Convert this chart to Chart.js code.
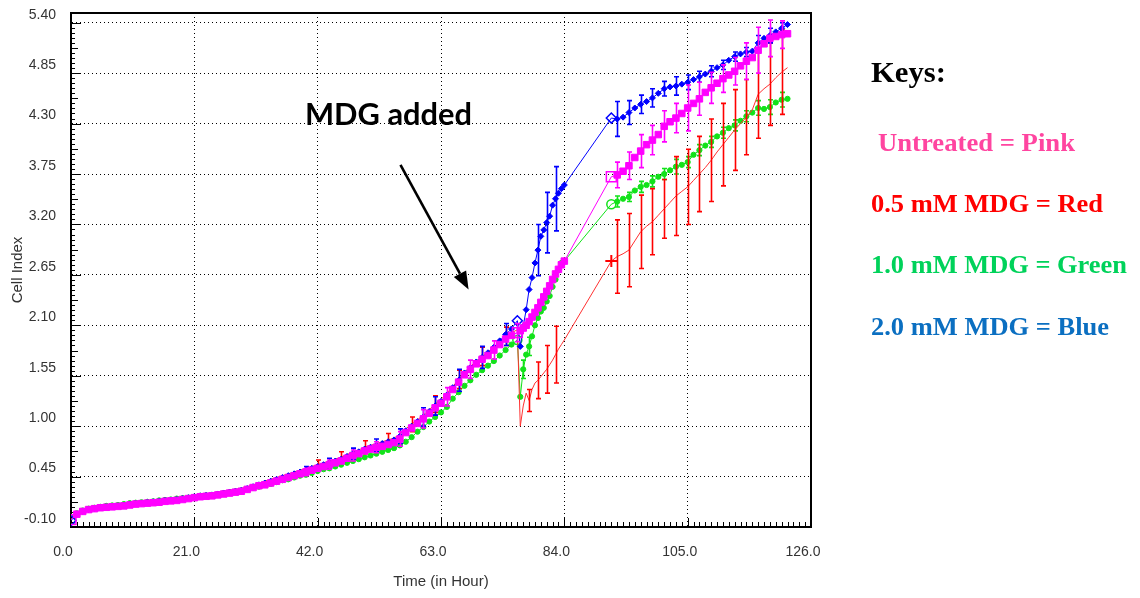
<!DOCTYPE html>
<html>
<head>
<meta charset="utf-8">
<title>Cell Index over time</title>
<script src="https://cdn.jsdelivr.net/npm/chart.js@4.4.1/dist/chart.umd.min.js"></script>
<style>
  html, body { margin: 0; padding: 0; background: #fff; }
  #wrap { position: relative; width: 1140px; height: 598px; overflow: hidden; }
  #wrap canvas { position: absolute; left: 0; top: 0; }
  #notes { position: absolute; left: 0; top: 0; pointer-events: none; }
</style>
</head>
<body>
<div id="wrap">
  <canvas id="ci" width="1140" height="598"></canvas>
  <svg id="notes" width="1140" height="598">
    <text x="305" y="125" font-family="Lato, 'Open Sans', sans-serif" font-weight="700" font-size="30" fill="#000"
          textLength="167" lengthAdjust="spacingAndGlyphs">MDG added</text>
    <g font-family="'Liberation Serif', 'Times New Roman', serif" font-weight="700">
      <text x="871" y="82" font-size="30" fill="#000" textLength="75" lengthAdjust="spacingAndGlyphs">Keys:</text>
      <text x="878" y="151" font-size="26" fill="#ff45a0" textLength="197" lengthAdjust="spacingAndGlyphs">Untreated = Pink</text>
      <text x="871" y="212" font-size="26" fill="#ff0000" textLength="232" lengthAdjust="spacingAndGlyphs">0.5 mM MDG = Red</text>
      <text x="871" y="273" font-size="26" fill="#00d25a" textLength="256" lengthAdjust="spacingAndGlyphs">1.0 mM MDG = Green</text>
      <text x="871" y="335" font-size="26" fill="#0b6fc1" textLength="238" lengthAdjust="spacingAndGlyphs">2.0 mM MDG = Blue</text>
    </g>
  </svg>
</div>
<script>
// Sampling times (hours): growth phase, dense readings after MDG addition, late readings
const hours = [
  0, 1, 2, 3, 4, 5, 6, 7, 8, 9, 10, 11, 12, 13, 14, 15, 16, 17, 18, 19,
  20, 21, 22, 23, 24, 25, 26, 27, 28, 29, 30, 31, 32, 33, 34, 35, 36, 37, 38, 39,
  40, 41, 42, 43, 44, 45, 46, 47, 48, 49, 50, 51, 52, 53, 54, 55, 56, 57, 58, 59,
  60, 61, 62, 63, 64, 65, 66, 67, 68, 69, 70, 71, 72, 73, 74, 75, 76,
  76.5, 77, 77.5, 78, 78.5, 79, 79.5, 80, 80.5, 81, 81.5, 82, 82.5, 83, 83.5, 84,
  92, 93, 94, 95, 96, 97, 98, 99, 100, 101, 102, 103, 104, 105, 106, 107, 108, 109,
  110, 111, 112, 113, 114, 115, 116, 117, 118, 119, 120, 121, 122
];

// Cell Index per condition, one value per entry of `hours`
const untreated = [
  -0.02, 0.04, 0.07, 0.09, 0.10, 0.11, 0.115, 0.12, 0.125, 0.13, 0.14, 0.15, 0.155, 0.16, 0.165, 0.17, 0.18, 0.185, 0.19, 0.20,
  0.21, 0.22, 0.23, 0.235, 0.24, 0.25, 0.26, 0.27, 0.28, 0.29, 0.31, 0.33, 0.35, 0.36, 0.38, 0.40, 0.42, 0.44, 0.46, 0.48,
  0.50, 0.52, 0.54, 0.56, 0.58, 0.60, 0.62, 0.65, 0.68, 0.70, 0.73, 0.75, 0.77, 0.78, 0.80, 0.82, 0.86, 0.93, 0.98, 1.03,
  1.08, 1.14, 1.20, 1.25, 1.32, 1.40, 1.48, 1.56, 1.62, 1.68, 1.73, 1.77, 1.83, 1.89, 1.95, 1.99, 2.02,
  2.04, 2.07, 2.10, 2.14, 2.19, 2.24, 2.29, 2.35, 2.41, 2.47, 2.53, 2.60, 2.66, 2.71, 2.76, 2.80,
  3.72, 3.74, 3.78, 3.84, 3.93, 4.00, 4.07, 4.12, 4.18, 4.27, 4.32, 4.36, 4.41, 4.47, 4.52, 4.57, 4.64, 4.69,
  4.74, 4.79, 4.83, 4.87, 4.93, 4.98, 5.02, 5.10, 5.17, 5.23, 5.25, 5.27, 5.28
];
const mdg05 = [
  -0.02, 0.05, 0.08, 0.10, 0.11, 0.12, 0.13, 0.135, 0.14, 0.15, 0.16, 0.17, 0.175, 0.18, 0.19, 0.195, 0.20, 0.21, 0.215, 0.22,
  0.23, 0.24, 0.25, 0.26, 0.27, 0.28, 0.29, 0.30, 0.31, 0.32, 0.34, 0.36, 0.38, 0.40, 0.42, 0.44, 0.46, 0.48, 0.50, 0.52,
  0.54, 0.56, 0.58, 0.60, 0.62, 0.64, 0.66, 0.69, 0.72, 0.74, 0.77, 0.79, 0.81, 0.83, 0.85, 0.87, 0.91, 0.97, 1.02, 1.07,
  1.12, 1.18, 1.24, 1.29, 1.36, 1.43, 1.51, 1.59, 1.65, 1.71, 1.76, 1.81, 1.86, 1.92, 1.98, 2.02, 2.05,
  1.00, 1.22, 1.36, 1.28, 1.40, 1.47, 1.50, 1.54, 1.58, 1.62, 1.67, 1.72, 1.78, 1.84, 1.89, 1.94,
  2.80, 2.85, 2.88, 2.92, 3.02, 3.12, 3.18, 3.23, 3.30, 3.37, 3.44, 3.51, 3.56, 3.61, 3.68, 3.75, 3.82, 3.90,
  3.99, 4.07, 4.15, 4.23, 4.30, 4.37, 4.45, 4.62, 4.68, 4.73, 4.80, 4.86, 4.91
];
const mdg10 = [
  -0.02, 0.05, 0.08, 0.10, 0.11, 0.12, 0.13, 0.135, 0.14, 0.15, 0.16, 0.165, 0.17, 0.175, 0.18, 0.19, 0.195, 0.20, 0.21, 0.215,
  0.22, 0.23, 0.24, 0.245, 0.25, 0.26, 0.27, 0.28, 0.29, 0.30, 0.31, 0.33, 0.34, 0.36, 0.37, 0.39, 0.41, 0.42, 0.44, 0.46,
  0.47, 0.49, 0.51, 0.53, 0.54, 0.56, 0.58, 0.60, 0.62, 0.64, 0.66, 0.68, 0.70, 0.72, 0.74, 0.76, 0.79, 0.83, 0.88, 0.94,
  0.99, 1.05, 1.10, 1.15, 1.21, 1.30, 1.37, 1.44, 1.50, 1.56, 1.61, 1.66, 1.71, 1.77, 1.83, 1.89, 1.94,
  1.32, 1.62, 1.78, 1.87, 1.98, 2.10, 2.18, 2.25, 2.29, 2.36, 2.42, 2.52, 2.60, 2.70, 2.78, 2.80,
  3.42, 3.45, 3.48, 3.50, 3.57, 3.61, 3.63, 3.67, 3.72, 3.75, 3.79, 3.83, 3.85, 3.88, 3.96, 4.01, 4.06, 4.10,
  4.16, 4.20, 4.25, 4.28, 4.33, 4.38, 4.42, 4.47, 4.46, 4.48, 4.53, 4.56, 4.57
];
const mdg20 = [
  -0.03, 0.04, 0.07, 0.09, 0.10, 0.11, 0.12, 0.125, 0.13, 0.14, 0.15, 0.155, 0.16, 0.17, 0.175, 0.18, 0.19, 0.195, 0.20, 0.21,
  0.22, 0.23, 0.24, 0.245, 0.25, 0.26, 0.27, 0.28, 0.29, 0.30, 0.32, 0.34, 0.36, 0.38, 0.40, 0.42, 0.44, 0.46, 0.48, 0.50,
  0.52, 0.54, 0.56, 0.58, 0.60, 0.62, 0.64, 0.67, 0.70, 0.72, 0.75, 0.77, 0.79, 0.81, 0.83, 0.85, 0.89, 0.95, 1.00, 1.05,
  1.10, 1.16, 1.22, 1.27, 1.34, 1.42, 1.50, 1.58, 1.64, 1.70, 1.75, 1.80, 1.86, 1.93, 2.00, 2.06, 2.15,
  1.87, 2.09, 2.27, 2.49, 2.62, 2.78, 2.92, 3.07, 3.14, 3.22, 3.29, 3.41, 3.48, 3.54, 3.59, 3.63,
  4.36, 4.35, 4.37, 4.42, 4.47, 4.51, 4.54, 4.58, 4.63, 4.68, 4.70, 4.71, 4.73, 4.75, 4.78, 4.81, 4.84, 4.87,
  4.91, 4.94, 4.99, 5.03, 5.06, 5.08, 5.09, 5.18, 5.23, 5.26, 5.30, 5.34, 5.38
];

// Standard deviations (half bar length) at the hours where bars are shown
const untreatedErrHours = [40, 44, 48, 52, 56, 60, 64, 68, 72, 76, 93, 95, 97, 99, 101, 103, 105, 107, 109, 111, 113, 115, 117, 119, 121];
const untreatedErr      = [0.04, 0.05, 0.06, 0.06, 0.08, 0.10, 0.10, 0.10, 0.10, 0.10, 0.14, 0.15, 0.18, 0.16, 0.17, 0.16, 0.25, 0.18, 0.17, 0.15, 0.15, 0.20, 0.25, 0.20, 0.15];
const mdg05ErrHours = [42, 46, 50, 54, 58, 62, 66, 70, 74, 78, 79.5, 81, 82.5, 93, 95, 97, 99, 101, 103, 105, 107, 109, 111, 113, 115, 117, 119, 121];
const mdg05Err      = [0.05, 0.06, 0.07, 0.07, 0.08, 0.09, 0.10, 0.10, 0.10, 0.12, 0.20, 0.26, 0.31, 0.40, 0.40, 0.40, 0.36, 0.32, 0.43, 0.41, 0.41, 0.45, 0.45, 0.44, 0.41, 0.48, 0.45, 0.46];
const mdg10ErrHours = [77, 78, 93, 95, 97, 99, 101, 103, 105, 107, 109, 111, 113, 115, 117, 119, 121];
const mdg10Err      = [0.10, 0.10, 0.06, 0.05, 0.06, 0.06, 0.06, 0.08, 0.06, 0.06, 0.06, 0.06, 0.06, 0.06, 0.08, 0.08, 0.08];
const mdg20ErrHours = [40, 44, 48, 52, 56, 60, 62, 66, 70, 74, 79.5, 81, 82.5, 93, 95, 97, 99, 101, 103, 105, 107, 109, 111, 113, 115, 117, 119, 121];
const mdg20Err      = [0.04, 0.05, 0.06, 0.07, 0.08, 0.10, 0.10, 0.12, 0.12, 0.12, 0.28, 0.33, 0.35, 0.19, 0.13, 0.10, 0.10, 0.08, 0.10, 0.08, 0.06, 0.06, 0.05, 0.05, 0.05, 0.08, 0.08, 0.06];

// Hours drawn with an open marker: start of recording, MDG addition, restart of recording
const openMarkerHours = [0, 76, 92];

// Axis ticks
const xTicks = [0, 21, 42, 63, 84, 105, 126];
const yTicks = [-0.10, 0.45, 1.00, 1.55, 2.10, 2.65, 3.20, 3.75, 4.30, 4.85, 5.40];

// "MDG added" arrow, in (hour, cell index) coordinates
const arrowFrom = [56.1, 3.85];
const arrowTo = [67.7, 2.49];

const toPoints = series => hours.map((h, i) => ({ x: h, y: series[i] }));
const isOpen = ctx => openMarkerHours.includes(hours[ctx.dataIndex]);

function makeSet(label, series, color, style, r, rOpen, openStyle, errHours, errVals, lineColor) {
  return {
    label,
    data: toPoints(series),
    borderColor: lineColor || color,
    borderWidth: 1,
    backgroundColor: color,
    tension: 0,
    pointStyle: ctx => (isOpen(ctx) ? openStyle : style),
    pointRadius: ctx => (isOpen(ctx) ? rOpen : r),
    pointBorderColor: color,
    pointBorderWidth: ctx => (isOpen(ctx) ? 1.5 : 1),
    pointBackgroundColor: ctx => (isOpen(ctx) ? 'rgba(255,255,255,0)' : color),
    errHours, errVals, errColor: color
  };
}

const datasets = [
  makeSet('Untreated', untreated, '#ff00ff', 'rect', 4.6, 7, 'rect', untreatedErrHours, untreatedErr),
  makeSet('2.0 mM MDG', mdg20, '#0000ff', 'rectRot', 3, 5, 'rectRot', mdg20ErrHours, mdg20Err),
  makeSet('0.5 mM MDG', mdg05, '#ff0000', 'circle', 0, 0, 'cross', mdg05ErrHours, mdg05Err, '#ff3030'),
  makeSet('1.0 mM MDG', mdg10, '#12e21a', 'circle', 2.6, 4.5, 'circle', mdg10ErrHours, mdg10Err)
];
// the 0.5 mM series shows only a cross where recording restarts
datasets[2].pointRadius = ctx => (hours[ctx.dataIndex] === 92 ? 6 : 0);
datasets[2].pointBorderWidth = 2;

// Error bars, drawn right after each series so the layering follows the series order
const errorBars = {
  id: 'errorBars',
  afterDatasetDraw(chart, args) {
    const ds = chart.data.datasets[args.index];
    if (!ds.errHours) return;
    const { ctx, chartArea: a } = chart;
    const xs = chart.scales.x, ys = chart.scales.y;
    ctx.save();
    ctx.beginPath();
    ctx.rect(a.left, a.top, a.right - a.left, a.bottom - a.top);
    ctx.clip();
    ctx.strokeStyle = ds.errColor;
    ctx.lineWidth = 1.6;
    ds.errHours.forEach((h, k) => {
      const idx = hours.indexOf(h);
      if (idx < 0) return;
      const v = ds.data[idx].y, e = ds.errVals[k];
      const px = Math.round(xs.getPixelForValue(h)) + 0.5;
      const top = ys.getPixelForValue(v + e), bot = ys.getPixelForValue(v - e);
      ctx.beginPath();
      ctx.moveTo(px, top); ctx.lineTo(px, bot);
      ctx.moveTo(px - 2.5, top); ctx.lineTo(px + 2.5, top);
      ctx.moveTo(px - 2.5, bot); ctx.lineTo(px + 2.5, bot);
      ctx.stroke();
    });
    ctx.restore();
  }
};

// Plot frame and the small tick marks along both axes
const frameTicks = {
  id: 'frameTicks',
  beforeDatasetsDraw(chart) {
    const { ctx, chartArea: a } = chart;
    const xs = chart.scales.x, ys = chart.scales.y;
    ctx.save();
    ctx.strokeStyle = '#000';
    ctx.lineWidth = 1;
    ctx.beginPath();
    const yMin = yTicks[0], yStep = (yTicks[1] - yTicks[0]) / 10;
    for (let i = 0; i <= (yTicks.length - 1) * 10; i++) {
      const y = Math.round(ys.getPixelForValue(yMin + i * yStep)) + 0.5;
      const len = i % 10 === 0 ? 10 : (i % 5 === 0 ? 7 : 4);
      ctx.moveTo(a.left, y); ctx.lineTo(a.left + len, y);
    }
    const xStep = (xTicks[1] - xTicks[0]) / 21;
    for (let i = 0; i <= (xTicks.length - 1) * 21; i++) {
      const x = Math.round(xs.getPixelForValue(xTicks[0] + i * xStep)) + 0.5;
      const len = i % 21 === 0 ? 9 : 5;
      ctx.moveTo(x, a.bottom); ctx.lineTo(x, a.bottom - len);
    }
    ctx.stroke();
    ctx.lineWidth = 2;
    ctx.beginPath();
    ctx.moveTo(a.left, a.top); ctx.lineTo(a.right, a.top); ctx.lineTo(a.right, a.bottom);
    ctx.stroke();
    ctx.restore();
  },
  afterDraw(chart) {
    // annotation arrow pointing at the time of MDG addition
    const { ctx } = chart;
    const xs = chart.scales.x, ys = chart.scales.y;
    const x1 = xs.getPixelForValue(arrowFrom[0]), y1 = ys.getPixelForValue(arrowFrom[1]);
    const x2 = xs.getPixelForValue(arrowTo[0]), y2 = ys.getPixelForValue(arrowTo[1]);
    const ang = Math.atan2(y2 - y1, x2 - x1);
    const headLen = 18, headHalf = 7;
    const bx = x2 - headLen * Math.cos(ang), by = y2 - headLen * Math.sin(ang);
    ctx.save();
    ctx.strokeStyle = '#000';
    ctx.fillStyle = '#000';
    ctx.lineWidth = 2.6;
    ctx.beginPath();
    ctx.moveTo(x1, y1); ctx.lineTo(bx, by);
    ctx.stroke();
    ctx.beginPath();
    ctx.moveTo(x2, y2);
    ctx.lineTo(bx + headHalf * Math.sin(ang), by - headHalf * Math.cos(ang));
    ctx.lineTo(bx - headHalf * Math.sin(ang), by + headHalf * Math.cos(ang));
    ctx.closePath();
    ctx.fill();
    ctx.restore();
  }
};

const tickFont = { family: "'Liberation Sans', Arial, sans-serif", size: 14 };

new Chart(document.getElementById('ci'), {
  type: 'line',
  data: { datasets },
  plugins: [frameTicks, errorBars],
  options: {
    responsive: false,
    devicePixelRatio: 1,
    animation: false,
    layout: { padding: { top: 13, right: 329, left: 0, bottom: 0 } },
    plugins: { legend: { display: false }, tooltip: { enabled: false } },
    scales: {
      x: {
        type: 'linear',
        min: 0,
        max: 126,
        afterFit: s => { s.height = 71; s.paddingLeft = 0; s.paddingRight = 0; },
        afterBuildTicks: s => { s.ticks = xTicks.map(v => ({ value: v })); },
        grid: { color: '#000', lineWidth: 1, drawTicks: false },
        border: { color: '#000', width: 2, dash: [1, 3] },
        ticks: {
          autoSkip: false, maxRotation: 0, padding: 17, labelOffset: -8,
          color: '#333', font: tickFont,
          callback: v => Number(v).toFixed(1)
        },
        title: {
          display: true, text: 'Time (in Hour)', color: '#333',
          font: { family: "'Liberation Sans', Arial, sans-serif", size: 15 },
          padding: { top: 4, bottom: 7 }
        }
      },
      y: {
        type: 'linear',
        min: -0.10,
        max: 5.506,
        afterFit: s => { s.width = 71; s.paddingTop = 0; s.paddingBottom = 0; },
        afterBuildTicks: s => { s.ticks = yTicks.map(v => ({ value: v })); },
        grid: { color: '#000', lineWidth: 1, drawTicks: false },
        border: { color: '#000', width: 2, dash: [1, 3] },
        ticks: {
          autoSkip: false, padding: 15, labelOffset: -8,
          color: '#333', font: tickFont,
          callback: v => Number(v).toFixed(2)
        },
        title: {
          display: true, text: 'Cell Index', color: '#333',
          font: { family: "'Liberation Sans', Arial, sans-serif", size: 15 },
          padding: { top: 9, bottom: 0 }
        }
      }
    }
  }
});
</script>
</body>
</html>
